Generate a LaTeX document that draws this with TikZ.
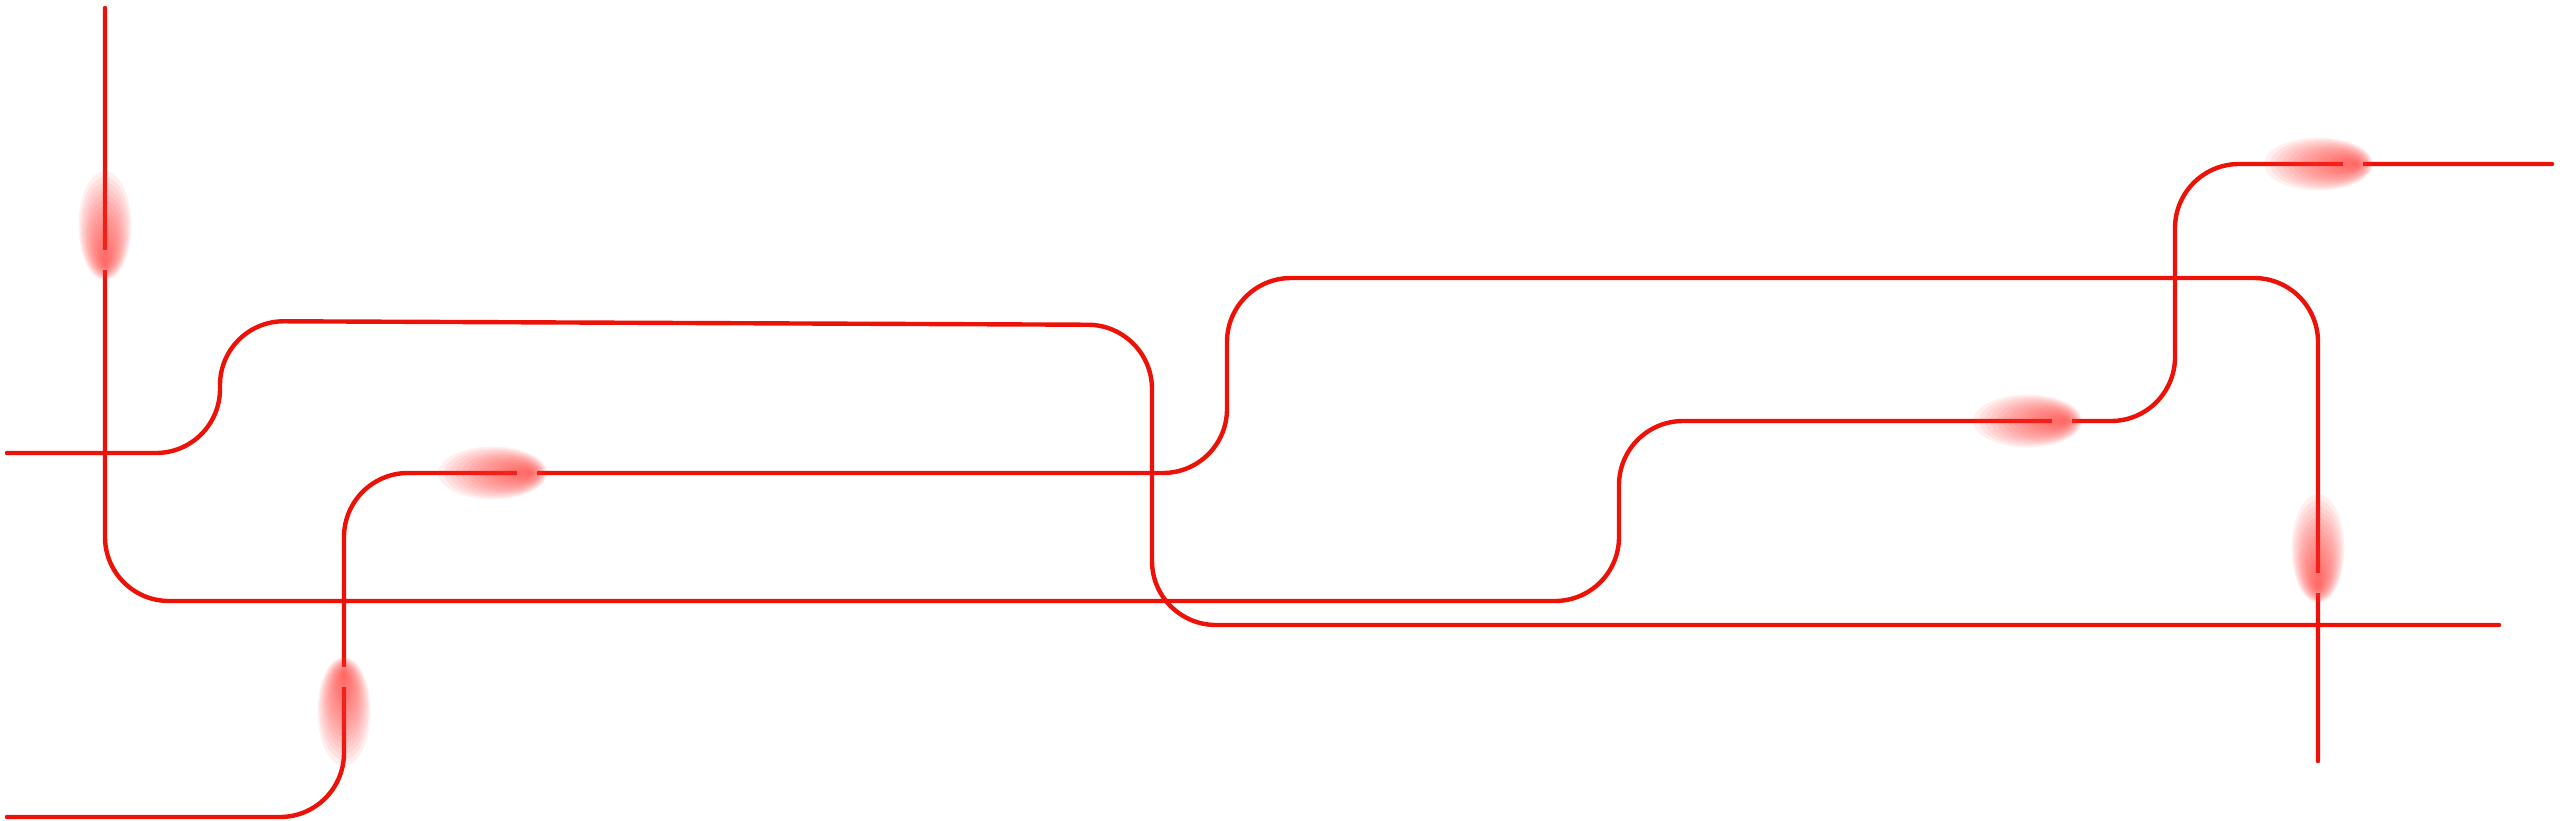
\documentclass[tikz,border=0pt]{standalone}
\definecolor{wire}{RGB}{236,18,8}
\definecolor{glowc}{RGB}{255,50,45}
\tikzset{
  wireline/.style={draw=wire, line width=2.2pt, line cap=round, rounded corners=32pt},
}
\newcommand{\comet}[3]{%
  \begin{scope}[shift={(#1,#2)}, rotate=#3]
    \fill[white] (-10,-4) rectangle (10,4);
    \foreach \k in {1,...,16}{\fill[glowc, opacity=0.075] ({4-2.4*\k},0) ellipse [x radius={3.4*\k}, y radius={1.65*\k}];}
  \end{scope}}
\begin{document}
\begin{tikzpicture}[x=0.5pt,y=-0.5pt]
\useasboundingbox[fill=white] (0,0) rectangle (2560,820);
% line A
\coordinate (a0) at (105,8);
\coordinate (a1) at (105,601);
\coordinate (a2) at (1619,601);
\coordinate (a3) at (1619,421);
\coordinate (a4) at (2175,421);
\coordinate (a5) at (2175,164);
\coordinate (a6) at (2552,164);
\draw[wireline] (a0) -- (a1) -- (a2) -- (a3) -- (a4) -- (a5) -- (a6);
% line B
\coordinate (b0) at (7,453);
\coordinate (b1) at (220,453);
\coordinate (b2) at (220,321);
\coordinate (b3) at (1152,325);
\coordinate (b4) at (1152,625);
\coordinate (b5) at (2499,625);
\draw[wireline] (b0) -- (b1) -- (b2) -- (b3) -- (b4) -- (b5);
% line C
\coordinate (c0) at (7,817);
\coordinate (c1) at (344,817);
\coordinate (c2) at (344,473);
\coordinate (c3) at (1227,473);
\coordinate (c4) at (1227,278);
\coordinate (c5) at (2318,278);
\coordinate (c6) at (2318,761);
\draw[wireline] (c0) -- (c1) -- (c2) -- (c3) -- (c4) -- (c5) -- (c6);
% moving glows
\comet{105}{260}{-90}
\comet{527}{473}{0}
\comet{2062}{421}{0}
\comet{2353}{164}{0}
\comet{2318}{583}{-90}
\comet{344}{677}{90}
\end{tikzpicture}
\end{document}
